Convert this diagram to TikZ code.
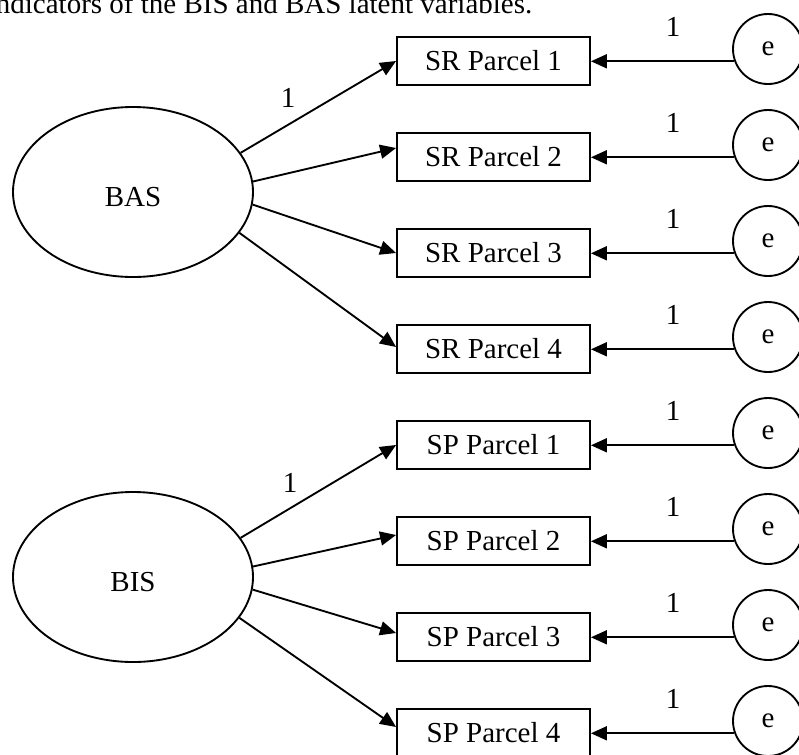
\documentclass[tikz,border=0pt]{standalone}
\usepackage{fontspec}
\setmainfont{Liberation Serif}
\usetikzlibrary{arrows.meta,shapes.geometric}
\begin{document}
\begin{tikzpicture}[x=0.75pt,y=-0.75pt,line width=1.4pt,
  every node/.style={font=\fontsize{21.75}{26}\selectfont},
  latent/.style={draw,ellipse,minimum width=180pt,minimum height=127.5pt,inner sep=0pt},
  indicator/.style={draw,rectangle,minimum width=144.75pt,minimum height=36pt,inner sep=0pt},
  err/.style={draw,circle,minimum size=52.5pt,inner sep=0pt},
  loadarrow/.style={-{Triangle[length=12pt,width=10.5pt]}},
  lab/.style={inner sep=0pt}]
\clip (0,0) rectangle (799,754);

% caption line, partly cut at the top
\node[anchor=base west,inner sep=0pt] (title) at (-5,13) {ndicators of the BIS and BAS latent variables.};

% latent factors
\node[latent] (bas) at (133,192) {};
\node[lab] (bastext) at (133,197) {BAS};
\node[latent] (bis) at (133,577) {};
\node[lab] (bistext) at (133,582) {BIS};

% indicators, error terms and their fixed paths
\foreach \i/\name/\txt in {1/sr1/SR Parcel 1,2/sr2/SR Parcel 2,3/sr3/SR Parcel 3,4/sr4/SR Parcel 4,
                           5/sp1/SP Parcel 1,6/sp2/SP Parcel 2,7/sp3/SP Parcel 3,8/sp4/SP Parcel 4}{
  \pgfmathsetmacro{\yc}{61+96*(\i-1)}
  \node[indicator] (\name) at (493.5,\yc) {\txt};
  \node[err] (e\i) at (768,\yc-12) {e};
  \node[lab] (one\i) at (673,\yc-34) {1};
  \draw[loadarrow] (e\i.200) -- (e\i.200 -| \name.east);
}

% factor loadings
\draw[loadarrow] (bas.20.5) -- (sr1.west);
\draw[loadarrow] (bas.5.7) -- ([yshift=6.75pt]sr2.west);
\draw[loadarrow] (bas.-6.2) -- (sr3.west);
\draw[loadarrow] (bas.-21) -- ([yshift=1.5pt]sr4.west);
\node[lab] (basone) at (288,98) {1};

\draw[loadarrow] (bis.20.5) -- (sp1.west);
\draw[loadarrow] (bis.5.7) -- ([yshift=4.5pt]sp2.west);
\draw[loadarrow] (bis.-6.2) -- ([yshift=3pt]sp3.west);
\draw[loadarrow] (bis.-21) -- ([yshift=4.5pt]sp4.west);
\node[lab] (bisone) at (290,483) {1};
\end{tikzpicture}
\end{document}
